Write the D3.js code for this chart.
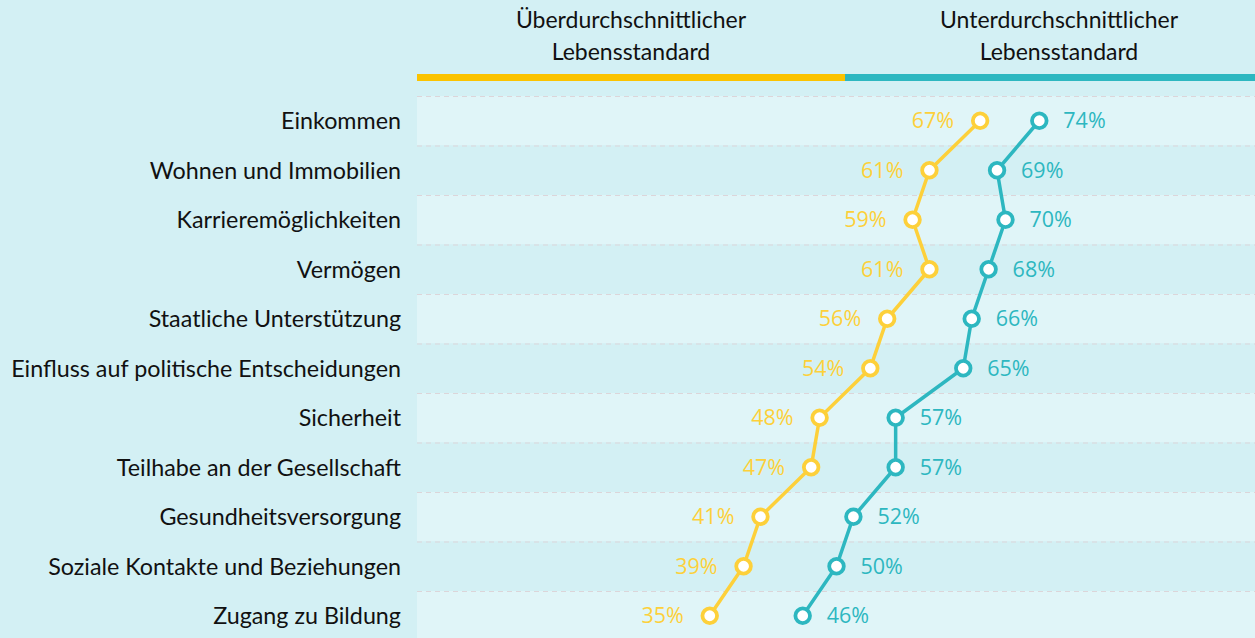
<!DOCTYPE html>
<html><head><meta charset="utf-8">
<script src="https://cdn.jsdelivr.net/npm/d3@7"></script>
<style>
html,body{margin:0;padding:0;background:#d3f0f4;}
svg{display:block;}
</style></head>
<body>
<svg id="c" width="1255" height="638"></svg>
<script>
const categories = ["Einkommen","Wohnen und Immobilien","Karrieremöglichkeiten","Vermögen","Staatliche Unterstützung","Einfluss auf politische Entscheidungen","Sicherheit","Teilhabe an der Gesellschaft","Gesundheitsversorgung","Soziale Kontakte und Beziehungen","Zugang zu Bildung"];
const aboveAvg = [67,61,59,61,56,54,48,47,41,39,35];
const belowAvg = [74,69,70,68,66,65,57,57,52,50,46];
const seriesNames = [["Überdurchschnittlicher","Lebensstandard"],["Unterdurchschnittlicher","Lebensstandard"]];

const W=1255,H=638;
const svg=d3.select("#c");
const YEL="#fdd03a", YELBAR="#fbc300", TEAL="#2db7c0";
const x=d3.scaleLinear().domain([0,100]).range([414,1259]);
const y=d3.scaleBand().domain(categories).range([96,640.5]).padding(0);
const left=417;

// bands
svg.selectAll("rect.band").data(categories).join("rect")
  .attr("x",left).attr("width",W-left)
  .attr("y",d=>y(d)).attr("height",y.bandwidth())
  .attr("fill",(d,i)=>i%2===0?"#e0f5f8":"#d3f0f4");
svg.selectAll("line.sep").data(categories).join("line")
  .attr("x1",left).attr("x2",W)
  .attr("y1",d=>y(d)+0.5).attr("y2",d=>y(d)+0.5)
  .attr("stroke","#dcd5d9").attr("stroke-width",1.2).attr("stroke-dasharray","5,4");

// header bar
svg.append("rect").attr("x",left).attr("y",74).attr("width",845-left).attr("height",7).attr("fill",YELBAR);
svg.append("rect").attr("x",845).attr("y",74).attr("width",W-845).attr("height",7).attr("fill",TEAL);
const hx=[631,1059];
seriesNames.forEach((lines,k)=>{
  lines.forEach((t,j)=>{
    svg.append("text").attr("x",hx[k]).attr("y",28+j*32).attr("text-anchor","middle")
      .attr("font-family","Lato").attr("font-size",23).attr("fill","#111").text(t);
  });
});

// category labels
svg.selectAll("text.cat").data(categories).join("text")
  .attr("x",401).attr("y",d=>y(d)+y.bandwidth()/2).attr("dy","0.36em")
  .attr("text-anchor","end").attr("font-family","Lato").attr("font-size",23.3).attr("fill","#111")
  .text(d=>d);

const cy=d=>y(d)+y.bandwidth()/2;
const series=[{vals:aboveAvg,color:YEL,side:-1},{vals:belowAvg,color:TEAL,side:1}];
series.forEach(s=>{
  const pts=categories.map((c,i)=>[x(s.vals[i]),cy(c)]);
  svg.append("path").attr("d",d3.line()(pts)).attr("fill","none").attr("stroke",s.color).attr("stroke-width",3.5);
  svg.selectAll(null).data(pts).join("circle").attr("cx",d=>d[0]).attr("cy",d=>d[1]).attr("r",7.3)
    .attr("fill","#fff").attr("stroke",s.color).attr("stroke-width",3.8);
  svg.selectAll(null).data(categories).join("text")
    .attr("x",(c,i)=>x(s.vals[i])+s.side*(s.side<0?26:24)).attr("y",c=>cy(c)).attr("dy","0.36em")
    .attr("text-anchor",s.side<0?"end":"start")
    .attr("font-family","Open Sans").attr("font-size",21.5).attr("fill",s.color)
    .text((c,i)=>s.vals[i]+"%");
});
</script>
</body></html>
